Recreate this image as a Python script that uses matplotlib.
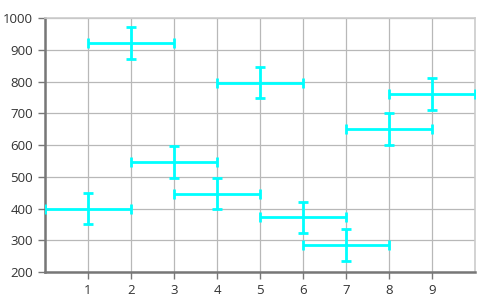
import numpy as np
import matplotlib.pyplot as plt

plt.rcParams['font.family'] = ['Open Sans', 'DejaVu Sans']

# données
x = [1, 2, 3, 4, 5, 6, 7, 8, 9]
y = [400, 922, 547, 447, 797, 372, 286, 651, 761]
x_err = [1, 1, 1, 1, 1, 1, 1, 1, 1]
y_err = [50, 50, 50, 50, 50, 50, 50, 50, 50]
x_ticks = [1, 2, 3, 4, 5, 6, 7, 8, 9]
y_ticks = [200, 300, 400, 500, 600, 700, 800, 900, 1000]

fig = plt.figure(figsize=(5, 3.07), dpi=100)
ax = fig.add_axes([0.09, 0.114, 0.86, 0.827])

ax.errorbar(x, y, xerr=x_err, yerr=y_err, fmt='none', ecolor='#00ffff',
            elinewidth=2, capsize=3.5, capthick=2, zorder=3)

ax.set_xlim(0, 10)
ax.set_ylim(200, 1000)
ax.set_xticks(x_ticks)
ax.set_yticks(y_ticks)
ax.set_xticks(range(0, 11), minor=True)
ax.grid(True, which='both', color='#b8b8b8', linewidth=0.9)
ax.set_axisbelow(True)

for side in ['left', 'bottom']:
    ax.spines[side].set_color('#777777')
    ax.spines[side].set_linewidth(1.8)
for side in ['top', 'right']:
    ax.spines[side].set_color('#cccccc')
    ax.spines[side].set_linewidth(1.2)

ax.tick_params(axis='both', colors='#777777', labelcolor='#333333',
               labelsize=9.5, length=5, width=1)
ax.tick_params(axis='x', which='minor', length=0)

fig.savefig('out.png', dpi=100)
